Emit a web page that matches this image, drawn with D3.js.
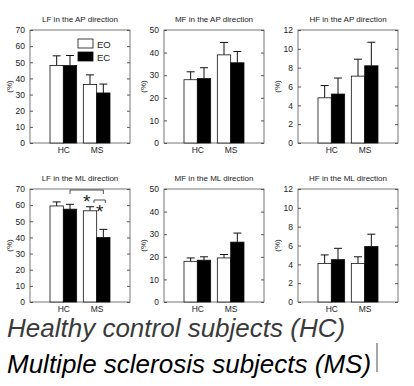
<!DOCTYPE html>
<html>
<head>
<meta charset="utf-8">
<script src="https://cdn.jsdelivr.net/npm/d3@7"></script>
<style>
  body { margin: 0; background: #fff; }
  svg { display: block; font-family: "Liberation Sans", Arial, sans-serif; }
  svg text { opacity: 0.999; }
</style>
</head>
<body>
<svg id="chart" width="414" height="386"></svg>
<script>
// ---- data ----
var groups = ["HC", "MS"];
var conditions = ["EO", "EC"];
var titles = ["LF in the AP direction", "MF in the AP direction", "HF in the AP direction",
              "LF in the ML direction", "MF in the ML direction", "HF in the ML direction"];
var yMax = [70, 50, 12, 70, 50, 12];
var yStep = [10, 10, 2, 10, 10, 2];
// means: [HC EO, HC EC, MS EO, MS EC]
var lfAP = [48, 48, 36.2, 31];
var mfAP = [28, 28.5, 39, 35.5];
var hfAP = [4.8, 5.2, 7.1, 8.2];
var lfML = [59.5, 57.5, 56.5, 40];
var mfML = [18, 18.5, 19.5, 26.5];
var hfML = [4.1, 4.5, 4.1, 5.9];
// SD (error bar length above the mean)
var lfAPsd = [6, 6.2, 6, 5.5];
var mfAPsd = [3.5, 4.8, 5.5, 5];
var hfAPsd = [1.3, 1.7, 1.8, 2.5];
var lfMLsd = [2.5, 3, 2.5, 5];
var mfMLsd = [1.5, 1.5, 1.5, 4];
var hfMLsd = [0.9, 1.2, 0.7, 1.3];
var means = [lfAP, mfAP, hfAP, lfML, mfML, hfML];
var sds = [lfAPsd, mfAPsd, hfAPsd, lfMLsd, mfMLsd, hfMLsd];

var svg = d3.select("#chart");
var colX = [30, 164, 298], rowY = [30, 189];
var W = 100, H = 113;
var axisColor = "#555";

titles.forEach(function(title, i) {
  var x0 = colX[i % 3], y0 = rowY[Math.floor(i / 3)];
  var g = svg.append("g").attr("transform", "translate(" + x0 + "," + y0 + ")");

  var x = d3.scaleLinear().domain([0, 3]).range([0, W]);
  var y = d3.scaleLinear().domain([0, yMax[i]]).range([H, 0]);
  var bw = x(0.4) - x(0);

  // box
  g.append("rect").attr("width", W).attr("height", H)
    .attr("fill", "none").attr("stroke", axisColor).attr("stroke-width", 0.8);

  // y axis, ticks inside
  var ticks = d3.range(0, yMax[i] + 0.001, yStep[i]);
  g.append("g").call(d3.axisLeft(y).tickValues(ticks).tickSize(-3).tickPadding(5))
    .call(function(a) {
      a.select(".domain").remove();
      a.selectAll("line").attr("stroke", axisColor);
      a.selectAll("text").attr("font-size", 8.5).attr("fill", "#222");
    });
  g.append("g").attr("transform", "translate(" + W + ",0)")
    .call(d3.axisRight(y).tickValues(ticks).tickSize(-3).tickFormat(""))
    .call(function(a) { a.select(".domain").remove(); a.selectAll("line").attr("stroke", axisColor); });

  // x axis labels
  g.append("g").attr("transform", "translate(0," + H + ")")
    .call(d3.axisBottom(x).tickValues([1, 2]).tickSize(-3).tickPadding(4)
      .tickFormat(function(d) { return groups[d - 1]; }))
    .call(function(a) {
      a.select(".domain").remove();
      a.selectAll("line").attr("stroke", axisColor);
      a.selectAll("text").attr("font-size", 8.5).attr("fill", "#222");
    });

  // title + y label
  g.append("text").attr("x", W / 2).attr("y", -8).attr("text-anchor", "middle")
    .attr("font-size", 8).attr("fill", "#222").text(title);
  g.append("text").attr("transform", "translate(-18," + H / 2 + ") rotate(-90)")
    .attr("text-anchor", "middle").attr("font-size", 8).attr("fill", "#222").text("(%)");

  // bars and error bars
  var rows = means[i].map(function(m, k) {
    return { g: Math.floor(k / 2) + 1, c: k % 2, m: m, sd: sds[i][k] };
  });
  rows.forEach(function(d) {
    var cx = x(d.g) + (d.c === 0 ? -bw / 2 : bw / 2);
    g.append("line").attr("x1", cx).attr("x2", cx)
      .attr("y1", y(d.m)).attr("y2", y(d.m + d.sd))
      .attr("stroke", "#111").attr("stroke-width", 1);
    g.append("line").attr("x1", cx - 4).attr("x2", cx + 4)
      .attr("y1", y(d.m + d.sd)).attr("y2", y(d.m + d.sd))
      .attr("stroke", "#111").attr("stroke-width", 1);
    g.append("rect").attr("x", cx - bw / 2).attr("y", y(d.m))
      .attr("width", bw).attr("height", H - y(d.m))
      .attr("fill", d.c === 0 ? "#fff" : "#000").attr("stroke", "#111").attr("stroke-width", 0.8);
  });

  // legend in first panel
  if (i === 0) {
    conditions.forEach(function(c, k) {
      g.append("rect").attr("x", 48).attr("y", 9 + k * 13).attr("width", 15).attr("height", 9)
        .attr("fill", k === 0 ? "#fff" : "#000").attr("stroke", "#111").attr("stroke-width", 0.8);
      g.append("text").attr("x", 67).attr("y", 17.5 + k * 13).attr("font-size", 9.5)
        .attr("fill", "#222").text(c);
    });
  }

  // significance brackets in LF ML panel
  if (i === 3) {
    var hcEC = x(1) + bw / 2, msEO = x(2) - bw / 2, msEC = x(2) + bw / 2;
    g.append("path").attr("d", "M" + hcEC + ",5V1H" + msEC + "V5")
      .attr("fill", "none").attr("stroke", "#222").attr("stroke-width", 0.8);
    g.append("text").attr("x", (hcEC + msEC) / 2).attr("y", 19).attr("text-anchor", "middle")
      .attr("font-size", 19).attr("fill", "#222").text("*");
    g.append("path").attr("d", "M" + (msEO + 4) + ",14V11H" + (msEC + 2) + "V14")
      .attr("fill", "none").attr("stroke", "#222").attr("stroke-width", 0.8);
    g.append("text").attr("x", (msEO + msEC) / 2 + 3).attr("y", 29).attr("text-anchor", "middle")
      .attr("font-size", 19).attr("fill", "#222").text("*");
  }
});

// caption lines
svg.append("text").attr("x", 7).attr("y", 337).attr("font-size", 26).attr("font-style", "italic")
  .attr("fill", "#3a3a3a").text("Healthy control subjects (HC)");
svg.append("text").attr("x", 7).attr("y", 373).attr("font-size", 26).attr("font-style", "italic")
  .attr("fill", "#000").text("Multiple sclerosis subjects (MS)");
svg.append("line").attr("x1", 377).attr("x2", 377).attr("y1", 343).attr("y2", 372)
  .attr("stroke", "#888").attr("stroke-width", 1.5);
</script>
</body>
</html>
